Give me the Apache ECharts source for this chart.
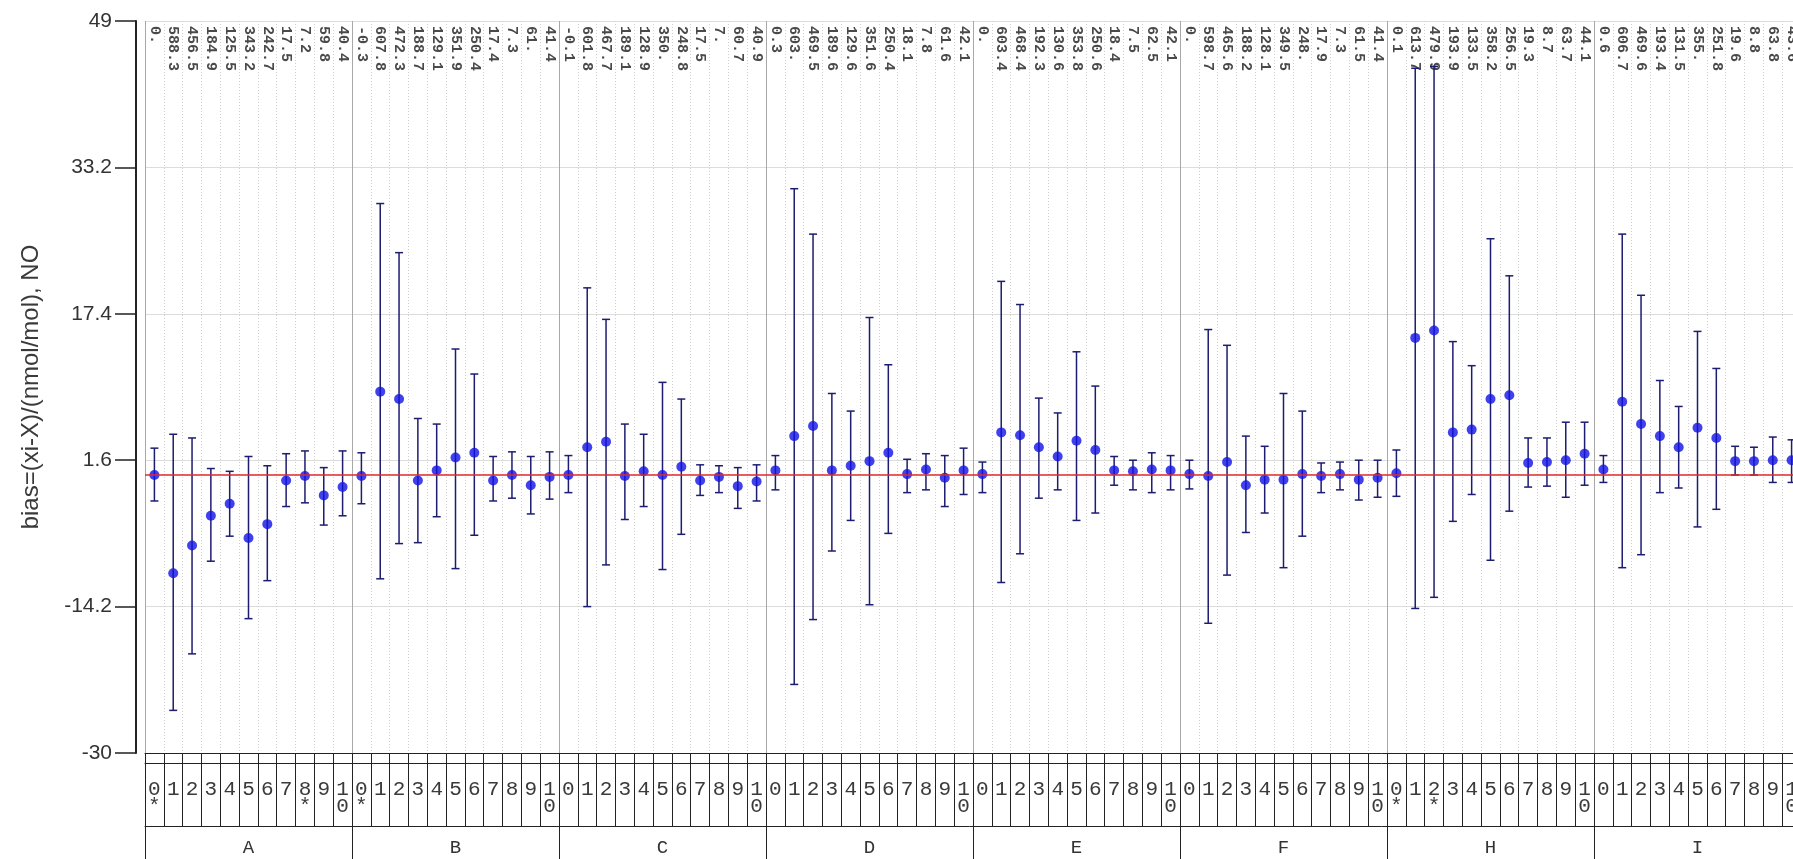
<!DOCTYPE html>
<html>
<head>
<meta charset="utf-8">
<script src="https://cdn.jsdelivr.net/npm/echarts@6/dist/echarts.min.js"></script>
<style>
  html, body { margin: 0; padding: 0; background: #fff; }
  #chart { width: 1793px; height: 859px; }
</style>
</head>
<body>
<div id="chart"></div>
<script>
// groups (labs) and the sub index shown in the bottom table
const groups = ['A', 'B', 'C', 'D', 'E', 'F', 'H', 'I'];
const subIdx = ['0', '1', '2', '3', '4', '5', '6', '7', '8', '9', '10'];
const starred = ['A0', 'A8', 'B0', 'H0', 'H2'];
const yTicks = [-30, -14.2, 1.6, 17.4, 33.2, 49];

// values printed vertically at the top of each column
const topLabels = [
  '0.', '588.3', '456.5', '184.9', '125.5', '343.2', '242.7', '17.5', '7.2', '59.8', '40.4',
  '-0.3', '607.8', '472.3', '188.7', '129.1', '351.9', '250.4', '17.4', '7.3', '61.', '41.4',
  '-0.1', '601.8', '467.7', '189.1', '128.9', '350.', '248.8', '17.5', '7.', '60.7', '40.9',
  '0.3', '603.', '469.5', '189.6', '129.6', '351.6', '250.4', '18.1', '7.8', '61.6', '42.1',
  '0.', '603.4', '468.4', '192.3', '130.6', '353.8', '250.6', '18.4', '7.5', '62.5', '42.1',
  '0.', '598.7', '465.6', '188.2', '128.1', '349.5', '248.', '17.9', '7.3', '61.5', '41.4',
  '0.1', '613.7', '479.9', '193.9', '133.5', '358.2', '256.5', '19.3', '8.7', '63.7', '44.1',
  '0.6', '606.7', '469.6', '193.4', '131.5', '355.', '251.8', '19.6', '8.8', '63.8', '43.6'
];

// bias points
const bias = [
  0.0, -10.6, -7.6, -4.4, -3.1, -6.8, -5.3, -0.6, -0.1, -2.2, -1.3,
  -0.1, 9.0, 8.2, -0.6, 0.5, 1.9, 2.4, -0.6, 0.0, -1.1, -0.2,
  0.0, 3.0, 3.6, -0.1, 0.4, 0.0, 0.9, -0.6, -0.2, -1.2, -0.7,
  0.5, 4.2, 5.3, 0.5, 1.0, 1.5, 2.4, 0.1, 0.6, -0.3, 0.5,
  0.1, 4.6, 4.3, 3.0, 2.0, 3.7, 2.7, 0.5, 0.4, 0.6, 0.5,
  0.1, -0.1, 1.4, -1.1, -0.5, -0.5, 0.1, -0.1, 0.1, -0.5, -0.3,
  0.2, 14.8, 15.6, 4.6, 4.9, 8.2, 8.6, 1.3, 1.4, 1.6, 2.3,
  0.6, 7.9, 5.5, 4.2, 3.0, 5.1, 4.0, 1.5, 1.5, 1.6, 1.6
];

// uncertainty bars, upper and lower ends
const barHigh = [
  2.9, 4.4, 4.0, 0.7, 0.4, 2.0, 1.0, 2.3, 2.6, 0.8, 2.6,
  2.4, 29.3, 24.0, 6.1, 5.5, 13.6, 10.9, 2.0, 2.5, 2.0, 2.5,
  2.1, 20.2, 16.8, 5.5, 4.4, 10.0, 8.2, 1.1, 1.0, 0.8, 1.1,
  2.1, 30.9, 26.0, 8.8, 6.9, 17.0, 11.9, 1.7, 2.3, 2.1, 2.9,
  1.4, 20.9, 18.4, 8.3, 6.7, 13.3, 9.6, 2.0, 1.6, 2.4, 2.1,
  1.6, 15.7, 14.0, 4.2, 3.1, 8.8, 6.9, 1.3, 1.4, 1.6, 1.6,
  2.7, 43.9, 44.1, 14.4, 11.8, 25.5, 21.5, 4.0, 4.0, 5.7, 5.7,
  2.1, 26.0, 19.4, 10.2, 7.4, 15.5, 11.5, 3.1, 3.0, 4.1, 3.8
];
const barLow = [
  -2.8, -25.4, -19.3, -9.3, -6.6, -15.5, -11.4, -3.4, -3.0, -5.4, -4.4,
  -3.1, -11.2, -7.4, -7.3, -4.5, -10.1, -6.5, -2.8, -2.5, -4.2, -2.6,
  -1.9, -14.2, -9.7, -4.8, -3.4, -10.2, -6.4, -2.2, -1.9, -3.6, -2.8,
  -1.6, -22.6, -15.6, -8.2, -4.9, -14.0, -6.3, -1.9, -1.6, -3.4, -2.1,
  -1.9, -11.6, -8.5, -2.5, -1.6, -4.9, -4.1, -1.1, -1.6, -1.9, -1.6,
  -1.5, -16.0, -10.8, -6.2, -4.1, -10.0, -6.6, -1.9, -1.6, -2.7, -2.4,
  -2.3, -14.4, -13.2, -5.0, -2.1, -9.2, -3.9, -1.3, -1.2, -2.4, -1.1,
  -0.8, -10.0, -8.6, -1.9, -1.4, -5.6, -3.7, 0.0, 0.0, -0.8, -0.8
];

const cats = groups.flatMap(g => subIdx.map(s => g + s));

const chart = echarts.init(document.getElementById('chart'));

const option = {
  animation: false,
  backgroundColor: '#fff',
  // plot runs a little past the right edge of the window, like the original
  grid: { left: 145, width: 1656, top: 21, bottom: 106, containLabel: false, outerBoundsMode: 'none' },
  xAxis: [
    {
      // index row of the table
      type: 'category',
      data: cats,
      position: 'bottom',
      boundaryGap: true,
      axisLine: { show: true, onZero: false, lineStyle: { color: '#222', width: 1 } },
      axisTick: { show: true, interval: 0, length: 73, lineStyle: { color: '#222', width: 1 } },
      axisLabel: {
        interval: 0,
        margin: 28,
        fontFamily: 'Liberation Mono',
        fontSize: 21,
        lineHeight: 17,
        color: '#3a3a3a',
        verticalAlign: 'top',
        formatter: function (val) {
          const s = val.slice(1);
          let txt = s.split('').join('\n');
          if (starred.indexOf(val) >= 0) txt += '\n*';
          return txt;
        }
      },
      splitLine: { show: false }
    },
    {
      // thin empty row under the plot
      type: 'category',
      data: cats,
      position: 'bottom',
      offset: 10,
      axisLine: { show: true, onZero: false, lineStyle: { color: '#222', width: 1 } },
      axisTick: { show: false },
      axisLabel: { show: false },
      splitLine: { show: false }
    },
    {
      // labels at the top of every column
      type: 'category',
      data: cats,
      position: 'top',
      boundaryGap: true,
      axisLine: { show: false, onZero: false },
      axisTick: { show: false },
      axisLabel: {
        inside: true,
        interval: 0,
        rotate: 90,
        margin: 5,
        fontFamily: 'Liberation Mono',
        fontWeight: 'bold',
        fontSize: 15,
        color: '#4a4a4a',
        formatter: function (val, i) { return topLabels[i]; }
      },
      splitLine: { show: true, interval: 0, lineStyle: { color: '#cfcfcf', type: [1, 2], width: 1 } }
    },
    {
      // group row
      type: 'category',
      data: groups,
      position: 'bottom',
      offset: 73,
      boundaryGap: true,
      axisLine: { show: true, onZero: false, lineStyle: { color: '#222', width: 1 } },
      axisTick: { show: true, interval: 0, length: 40, lineStyle: { color: '#222', width: 1 } },
      axisLabel: {
        interval: 0,
        margin: 12,
        fontFamily: 'Liberation Mono',
        fontSize: 19,
        color: '#333'
      },
      splitLine: { show: true, interval: 0, lineStyle: { color: '#a8a8a8', width: 1 } }
    }
  ],
  yAxis: {
    type: 'value',
    min: -30,
    max: 49,
    offset: 9,
    name: 'bias=(xi-X)/(nmol/mol), NO',
    nameLocation: 'middle',
    nameGap: 93,
    nameTextStyle: { fontFamily: 'Liberation Sans', fontSize: 24, color: '#3a3a3a' },
    axisLine: { show: true, lineStyle: { color: '#222', width: 2 } },
    axisTick: { show: true, length: 21, customValues: yTicks, lineStyle: { color: '#222', width: 1.5 } },
    axisLabel: {
      customValues: yTicks,
      margin: 24,
      fontFamily: 'Liberation Sans',
      fontSize: 21,
      color: '#333'
    },
    splitLine: { show: true, lineStyle: { color: '#dcdcdc', width: 1 } }
  },
  series: [
    {
      type: 'custom',
      name: 'uncertainty',
      xAxisIndex: 0,
      renderItem: function (params, api) {
        const x = api.value(0);
        const lo = api.coord([x, api.value(1)]);
        const hi = api.coord([x, api.value(2)]);
        const cap = 4;
        const style = { stroke: '#1c1c70', lineWidth: 1.5 };
        return {
          type: 'group',
          children: [
            { type: 'line', shape: { x1: hi[0], y1: hi[1], x2: lo[0], y2: lo[1] }, style: style },
            { type: 'line', shape: { x1: hi[0] - cap, y1: hi[1], x2: hi[0] + cap, y2: hi[1] }, style: style },
            { type: 'line', shape: { x1: lo[0] - cap, y1: lo[1], x2: lo[0] + cap, y2: lo[1] }, style: style }
          ]
        };
      },
      encode: { x: 0, y: [1, 2] },
      data: barLow.map((lo, i) => [i, lo, barHigh[i]]),
      z: 2
    },
    {
      type: 'scatter',
      name: 'bias',
      xAxisIndex: 0,
      symbol: 'circle',
      symbolSize: 10,
      itemStyle: { color: '#1212e6' },
      data: bias.map((v, i) => [i, v]),
      markLine: {
        silent: true,
        symbol: 'none',
        label: { show: false },
        lineStyle: { color: '#e02828', width: 1.5, type: 'solid' },
        data: [{ yAxis: 0 }]
      },
      z: 3
    }
  ]
};

chart.setOption(option);
</script>
</body>
</html>
